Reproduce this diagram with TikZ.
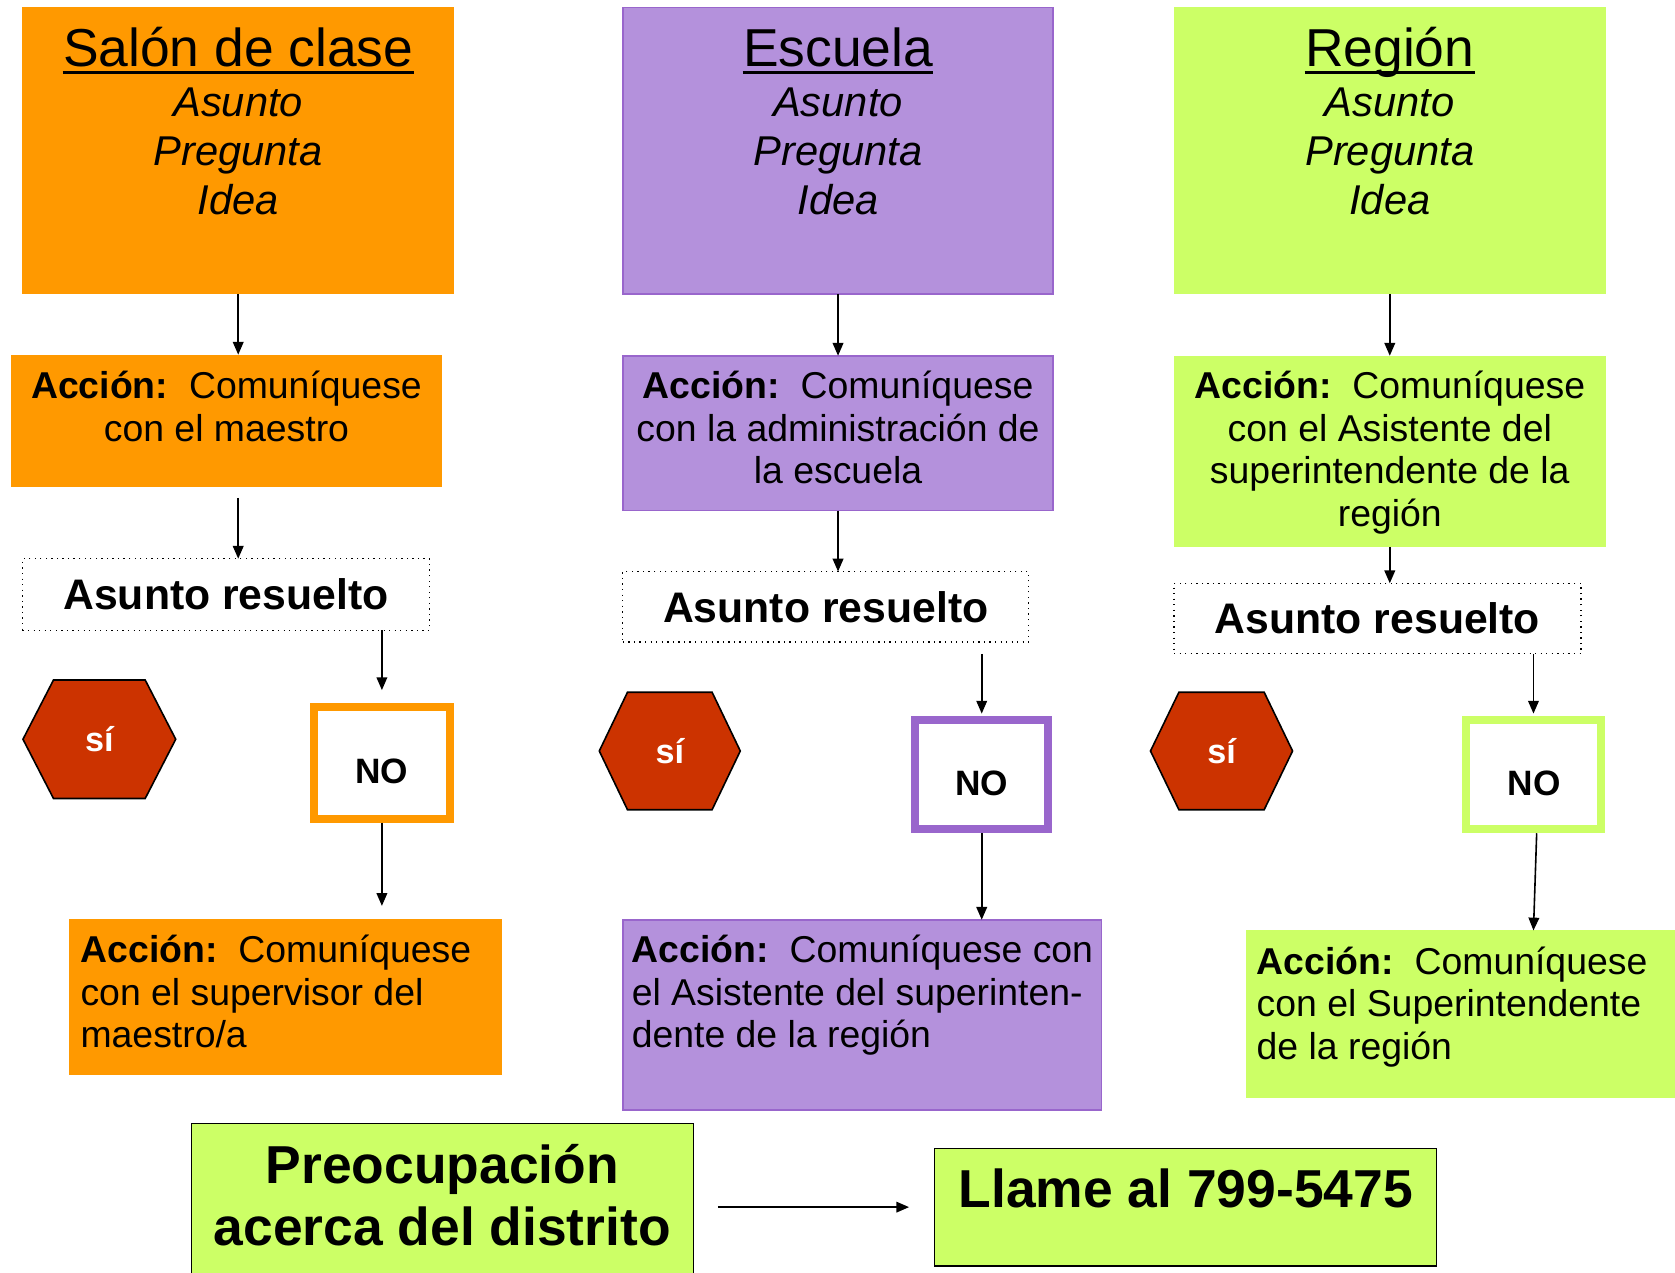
\documentclass[tikz,border=0pt]{standalone}
\usepackage{fontspec}
\setmainfont{Liberation Sans}
\usetikzlibrary{arrows.meta}
\definecolor{org}{HTML}{FF9900}
\definecolor{pur}{HTML}{B491DC}
\definecolor{purd}{HTML}{9966CC}
\definecolor{grn}{HTML}{CCFF66}
\definecolor{hexred}{HTML}{CC3300}
\newcommand\myhex[5]{% name, cx, cy, w, h
  \draw[hexstyle] ({#2-#4/2},{#3}) -- ({#2-0.3*#4},{#3-#5/2}) -- ({#2+0.3*#4},{#3-#5/2})
    -- ({#2+#4/2},{#3}) -- ({#2+0.3*#4},{#3+#5/2}) -- ({#2-0.3*#4},{#3+#5/2}) -- cycle;
  \node[sitxt] (#1) at (#2,#3) {sí};}
\begin{document}
\begin{tikzpicture}[x=0.5pt,y=-0.5pt,
  blk/.style={rectangle, inner sep=0pt, outer sep=0pt},
  obox/.style={blk, fill=org},
  pbox/.style={blk, fill=pur, draw=purd, line width=0.8pt},
  gbox/.style={blk, fill=grn},
  ttl/.style={inner sep=0pt, anchor=base, font=\fontsize{25}{29}\selectfont},
  ital/.style={inner sep=0pt, anchor=base, align=center, font=\fontsize{19.5}{23}\selectfont\itshape},
  act/.style={inner sep=0pt, anchor=base, align=center, font=\fontsize{17.5}{20}\selectfont},
  actl/.style={inner sep=0pt, anchor=base west, align=left, font=\fontsize{17.5}{20}\selectfont},
  res/.style={blk, draw, dotted, line width=0.6pt, fill=white, font=\fontsize{20}{24}\selectfont\bfseries},
  hexstyle/.style={fill=hexred, draw=black, line width=0.75pt},
  sitxt/.style={inner sep=0pt, text=white, font=\fontsize{16}{19}\selectfont\bfseries},
  nobox/.style={rectangle, inner sep=0pt, draw=#1, line width=3.75pt, fill=white},
  notxt/.style={inner sep=0pt, font=\fontsize{16.5}{20}\selectfont\bfseries},
  bigtxt/.style={inner sep=0pt, anchor=base, align=center, font=\fontsize{25}{29}\selectfont\bfseries},
  arr/.style={-{Triangle[length=6pt,width=5pt]}, line width=0.75pt},
  uline/.style={line width=1.2pt}
]
\useasboundingbox (0,0) rectangle (1568,1191);
\clip (0,0) rectangle (1568,1191);
\fill[white] (0,0) rectangle (1568,1191);

% (multi-line text nodes: anchor=base is the baseline of the LAST line)
% ---------- column 1 ----------
\node[obox, minimum width=202pt, minimum height=134pt] (t1) at (223,141) {};
\node[ttl] (ti1) at (223,62) {Salón de clase};
\draw[uline] ([yshift=-3pt]ti1.base west) -- ([yshift=-3pt]ti1.base east);
\node[ital] (it1) at (223,201) {Asunto\\Pregunta\\Idea};
\node[obox, minimum width=202pt, minimum height=62pt] (a1) at (212,394) {};
\node[act] (a1t) at (212,413) {\textbf{Acción:}\hspace{0.556em}Comuníquese\\con el maestro};
\node[res, minimum width=190.5pt, minimum height=33.5pt] (r1) at (211.5,556.5) {Asunto resuelto};
\myhex{s1}{93}{692}{143}{111}
\node[nobox=org, minimum width=63.75pt, minimum height=52.25pt] (n1) at (357.5,714) {};
\node[notxt] (n1t) at (357.5,722) {NO};
\node[obox, minimum width=202.5pt, minimum height=73pt] (b1) at (267.5,933) {};
\node[actl] (b1t) at (75,981) {\textbf{Acción:}\hspace{0.556em}Comuníquese\\con el supervisor del\\maestro/a};

\draw[arr] (t1.south) -- (t1.south |- a1.north);
\draw[arr] ([yshift=-5pt]t1.south |- a1.south) -- (t1.south |- r1.north);
\draw[arr, shorten >=6pt] (n1.north |- r1.south) -- (n1.north);
\draw[arr, shorten >=6pt] (n1.south) -- (n1.south |- b1.north);

% ---------- column 2 ----------
\node[pbox, minimum width=201.5pt, minimum height=134pt] (t2) at (784.5,141) {};
\node[ttl] (ti2) at (784.5,62) {Escuela};
\draw[uline] ([yshift=-3pt]ti2.base west) -- ([yshift=-3pt]ti2.base east);
\node[ital] (it2) at (784.5,201) {Asunto\\Pregunta\\Idea};
\node[pbox, minimum width=201.5pt, minimum height=72.5pt] (a2) at (784.5,405.5) {};
\node[act] (a2t) at (784.5,453) {\textbf{Acción:}\hspace{0.556em}Comuníquese\\con la administración de\\la escuela};
\node[res, minimum width=190pt, minimum height=33pt] (r2) at (773,568) {Asunto resuelto};
\myhex{s2}{627}{703}{132}{110}
\node[nobox=purd, minimum width=62.25pt, minimum height=51.25pt] (n2) at (919,725) {};
\node[notxt] (n2t) at (919,733) {NO};
\node[pbox, minimum width=224pt, minimum height=89pt] (b2) at (807,950) {};
\node[actl] (b2t) at (591,981) {\textbf{Acción:}\hspace{0.556em}Comuníquese con\\el Asistente del superinten-\\dente de la región};

\draw[arr] (t2.south) -- (a2.north);
\draw[arr] (a2.south) -- (a2.south |- r2.north);
\draw[arr, shorten >=1pt] ([yshift=-5.5pt]n2.north |- r2.south) -- (n2.north);
\draw[arr] (n2.south) -- (n2.south |- b2.north);

% ---------- column 3 ----------
\node[gbox, minimum width=202pt, minimum height=134pt] (t3) at (1301,141) {};
\node[ttl] (ti3) at (1301,62) {Región};
\draw[uline] ([yshift=-3pt]ti3.base west) -- ([yshift=-3pt]ti3.base east);
\node[ital] (it3) at (1301,201) {Asunto\\Pregunta\\Idea};
\node[gbox, minimum width=202pt, minimum height=89.5pt] (a3) at (1301,422.5) {};
\node[act] (a3t) at (1301,493) {\textbf{Acción:}\hspace{0.556em}Comuníquese\\con el Asistente del\\superintendente de la\\región};
\node[res, minimum width=190.5pt, minimum height=33pt] (r3) at (1289.5,579) {Asunto resuelto};
\myhex{s3}{1143.5}{703}{133}{110}
\node[nobox=grn, minimum width=62.75pt, minimum height=51.25pt] (n3) at (1435.5,725) {};
\node[notxt] (n3t) at (1436,733) {NO};
\node[gbox, minimum width=210pt, minimum height=78.5pt] (b3) at (1376,949.5) {};
\node[actl] (b3t) at (1176,992) {\textbf{Acción:}\hspace{0.556em}Comuníquese\\con el Superintendente\\de la región};

\draw[arr] (t3.south) -- (a3.north);
\draw[arr] (a3.south) -- (a3.south |- r3.north);
\draw[arr, shorten >=1pt] (n3.north |- r3.south) -- (n3.north);
\draw[arr] ([xshift=1.5pt]n3.south) -- (n3.south |- b3.north);

% ---------- bottom ----------
\node[blk, fill=grn, draw=black, line width=0.6pt, minimum width=235pt, minimum height=74pt] (p) at (414,1126) {};
\node[bigtxt] (pt) at (414,1166) {Preocupación\\acerca del distrito};
\node[blk, fill=grn, draw=black, line width=0.6pt, minimum width=235pt, minimum height=55pt] (L) at (1110,1130) {};
\node[bigtxt] (Lt) at (1110,1130) {Llame al 799-5475};
\draw[arr] ([xshift=11.5pt]p.east |- L.west) -- ([xshift=-12pt]L.west);
\end{tikzpicture}
\end{document}
